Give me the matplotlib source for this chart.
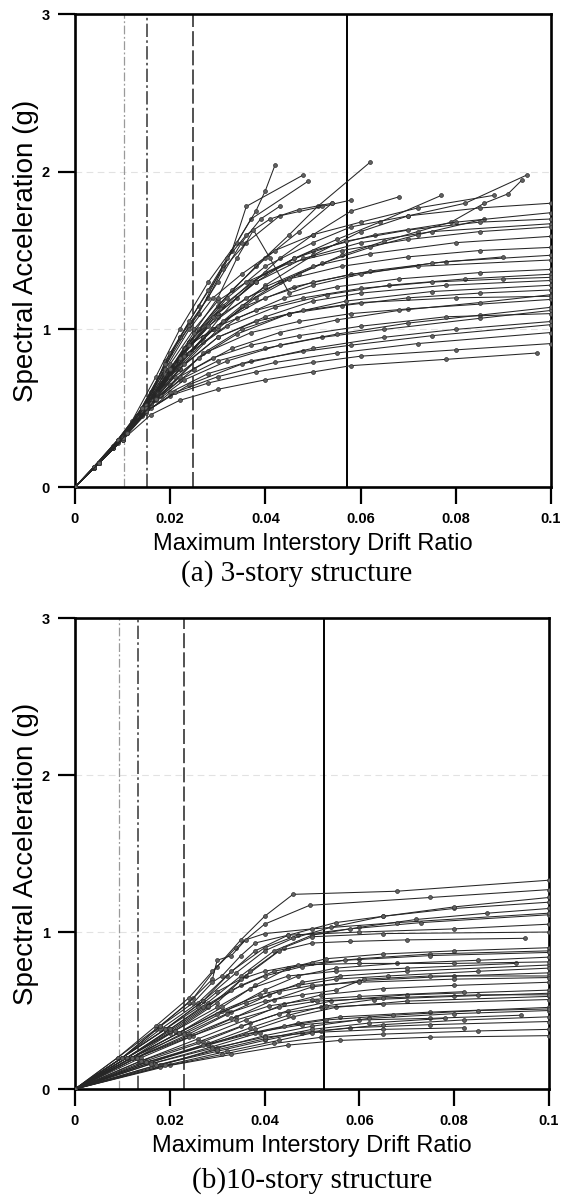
import numpy as np
import matplotlib
matplotlib.use("Agg")
import matplotlib.pyplot as plt

# IDA curves, (drift, Sa) pairs for each record
ida_3story = [
    [(0,0),(0.004,0.12),(0.008,0.25),(0.012,0.4),(0.016,0.58),(0.019,0.8),(0.022,0.95),(0.028,1.2),(0.033,1.5),(0.036,1.78),(0.048,1.98)],
    [(0,0),(0.004,0.12),(0.008,0.25),(0.012,0.4),(0.016,0.6),(0.02,0.85),(0.026,1.1),(0.031,1.4),(0.037,1.7),(0.049,1.94)],
    [(0,0),(0.004,0.12),(0.008,0.26),(0.012,0.42),(0.017,0.7),(0.022,1.0),(0.028,1.3),(0.034,1.55),(0.038,1.75),(0.04,1.88),(0.042,2.04)],
    [(0,0),(0.004,0.12),(0.008,0.25),(0.013,0.45),(0.018,0.72),(0.024,1.02),(0.03,1.3),(0.035,1.55),(0.039,1.7),(0.043,1.78)],
    [(0,0),(0.004,0.12),(0.008,0.25),(0.013,0.43),(0.018,0.66),(0.024,0.92),(0.03,1.15),(0.038,1.4),(0.045,1.6),(0.051,1.78),(0.062,2.06)],
    [(0,0),(0.004,0.12),(0.009,0.28),(0.014,0.46),(0.02,0.7),(0.027,0.95),(0.034,1.2),(0.043,1.45),(0.05,1.6),(0.058,1.75),(0.068,1.84)],
    [(0,0),(0.005,0.15),(0.01,0.31),(0.015,0.5),(0.022,0.75),(0.03,1.0),(0.04,1.28),(0.05,1.47),(0.06,1.62),(0.07,1.72),(0.082,1.8),(0.095,1.98)],
    [(0,0),(0.005,0.15),(0.01,0.31),(0.015,0.5),(0.021,0.75),(0.029,1.0),(0.038,1.2),(0.047,1.35),(0.056,1.47),(0.065,1.56),(0.072,1.62),(0.079,1.68),(0.086,1.8),(0.091,1.86),(0.094,1.95)],
    [(0,0),(0.004,0.13),(0.009,0.29),(0.015,0.5),(0.02,0.75),(0.026,1.0),(0.033,1.25),(0.04,1.45),(0.047,1.62),(0.054,1.8)],
    [(0,0),(0.005,0.15),(0.01,0.31),(0.016,0.55),(0.023,0.85),(0.03,1.1),(0.038,1.3),(0.046,1.45),(0.055,1.57),(0.064,1.68),(0.077,1.85)],
    [(0,0),(0.005,0.15),(0.01,0.31),(0.015,0.5),(0.02,0.72),(0.027,0.95),(0.035,1.15),(0.043,1.3),(0.052,1.42),(0.062,1.52),(0.072,1.6),(0.086,1.7)],
    [(0,0),(0.005,0.15),(0.011,0.35),(0.017,0.6),(0.024,0.92),(0.032,1.2),(0.04,1.4),(0.05,1.55),(0.058,1.65),(0.07,1.72),(0.085,1.77),(0.1,1.8)],
    [(0,0),(0.005,0.15),(0.011,0.34),(0.016,0.57),(0.023,0.88),(0.031,1.15),(0.04,1.36),(0.05,1.5),(0.063,1.6),(0.08,1.68),(0.1,1.74)],
    [(0,0),(0.005,0.15),(0.01,0.31),(0.015,0.5),(0.022,0.82),(0.03,1.1),(0.038,1.3),(0.048,1.45),(0.06,1.55),(0.075,1.62),(0.1,1.67)],
    [(0,0),(0.005,0.15),(0.011,0.34),(0.016,0.56),(0.023,0.85),(0.03,1.08),(0.04,1.27),(0.05,1.4),(0.062,1.48),(0.08,1.55),(0.1,1.59)],
    [(0,0),(0.005,0.15),(0.01,0.31),(0.015,0.52),(0.021,0.78),(0.028,1.02),(0.036,1.2),(0.045,1.32),(0.056,1.4),(0.07,1.46),(0.085,1.5),(0.1,1.52)],
    [(0,0),(0.005,0.15),(0.011,0.34),(0.016,0.55),(0.022,0.8),(0.029,1.0),(0.036,1.15),(0.046,1.27),(0.058,1.35),(0.072,1.4),(0.1,1.44)],
    [(0,0),(0.005,0.15),(0.01,0.31),(0.015,0.5),(0.02,0.7),(0.027,0.92),(0.034,1.07),(0.044,1.2),(0.055,1.27),(0.068,1.32),(0.085,1.36),(0.1,1.38)],
    [(0,0),(0.005,0.15),(0.011,0.34),(0.016,0.55),(0.022,0.75),(0.03,0.95),(0.04,1.08),(0.05,1.18),(0.06,1.23),(0.078,1.28),(0.1,1.31)],
    [(0,0),(0.005,0.15),(0.01,0.31),(0.014,0.45),(0.02,0.65),(0.027,0.85),(0.035,1.0),(0.045,1.1),(0.056,1.15),(0.07,1.2),(0.085,1.23),(0.1,1.25)],
    [(0,0),(0.005,0.15),(0.01,0.31),(0.015,0.5),(0.021,0.7),(0.028,0.86),(0.037,0.98),(0.047,1.05),(0.058,1.1),(0.07,1.13),(0.1,1.19)],
    [(0,0),(0.005,0.15),(0.01,0.31),(0.015,0.5),(0.022,0.68),(0.03,0.8),(0.04,0.88),(0.052,0.95),(0.065,1.0),(0.085,1.07),(0.1,1.12)],
    [(0,0),(0.005,0.15),(0.01,0.3),(0.015,0.47),(0.02,0.6),(0.028,0.72),(0.037,0.8),(0.048,0.86),(0.058,0.9),(0.075,0.96),(0.1,1.03)],
    [(0,0),(0.005,0.15),(0.01,0.3),(0.015,0.48),(0.02,0.58),(0.028,0.66),(0.038,0.73),(0.05,0.79),(0.06,0.83),(0.08,0.87),(0.1,0.91)],
    [(0,0),(0.005,0.15),(0.01,0.3),(0.016,0.46),(0.022,0.55),(0.03,0.62),(0.04,0.68),(0.05,0.73),(0.058,0.77),(0.078,0.81),(0.097,0.85)],
    [(0,0),(0.005,0.15),(0.01,0.31),(0.016,0.5),(0.024,0.65),(0.035,0.78),(0.05,0.88),(0.065,0.95),(0.08,1.0),(0.1,1.05)],
    [(0,0),(0.005,0.15),(0.011,0.34),(0.017,0.55),(0.025,0.75),(0.033,0.88),(0.043,0.98),(0.055,1.06),(0.068,1.12),(0.085,1.17),(0.1,1.22)],
    [(0,0),(0.005,0.15),(0.011,0.35),(0.018,0.58),(0.026,0.82),(0.034,0.97),(0.045,1.1),(0.057,1.18),(0.075,1.24),(0.1,1.28)],
    [(0,0),(0.005,0.15),(0.01,0.31),(0.016,0.52),(0.023,0.68),(0.032,0.8),(0.043,0.9),(0.055,0.97),(0.07,1.04),(0.085,1.09),(0.1,1.14)],
    [(0,0),(0.005,0.15),(0.011,0.35),(0.017,0.6),(0.024,0.85),(0.032,1.02),(0.042,1.14),(0.053,1.22),(0.066,1.28),(0.082,1.32),(0.1,1.35)],
    [(0,0),(0.005,0.15),(0.011,0.34),(0.016,0.55),(0.023,0.83),(0.031,1.05),(0.04,1.2),(0.05,1.3),(0.062,1.37),(0.078,1.43),(0.1,1.47)],
    [(0,0),(0.005,0.15),(0.01,0.32),(0.015,0.52),(0.022,0.82),(0.029,1.08),(0.037,1.3),(0.046,1.45),(0.057,1.56),(0.07,1.63),(0.085,1.68),(0.1,1.7)],
    [(0,0),(0.005,0.15),(0.01,0.3),(0.015,0.48),(0.021,0.6),(0.03,0.7),(0.042,0.79),(0.055,0.85),(0.072,0.91),(0.1,0.98)],
    [(0,0),(0.004,0.13),(0.009,0.3),(0.013,0.45),(0.018,0.7),(0.022,0.95),(0.026,1.15),(0.031,1.38),(0.036,1.55),(0.043,1.72),(0.052,1.78),(0.058,1.82)],
    [(0,0),(0.004,0.13),(0.009,0.3),(0.014,0.48),(0.019,0.75),(0.024,1.0),(0.029,1.2),(0.035,1.35),(0.042,1.5),(0.05,1.6),(0.06,1.68),(0.072,1.77),(0.088,1.85)],
    [(0,0),(0.005,0.15),(0.01,0.32),(0.015,0.52),(0.02,0.78),(0.025,1.0),(0.03,1.18),(0.036,1.3),(0.045,1.42),(0.056,1.5),(0.07,1.57),(0.085,1.62),(0.1,1.65)],
    [(0,0),(0.005,0.15),(0.01,0.32),(0.014,0.5),(0.019,0.72),(0.024,0.9),(0.03,1.02),(0.038,1.12),(0.048,1.2),(0.06,1.26),(0.075,1.3),(0.09,1.32),(0.1,1.33)],
    [(0,0),(0.005,0.15),(0.01,0.31),(0.016,0.53),(0.022,0.7),(0.029,0.82),(0.037,0.9),(0.047,0.96),(0.06,1.02),(0.078,1.08),(0.1,1.1)],
    [(0,0),(0.004,0.13),(0.009,0.3),(0.014,0.5),(0.019,0.78),(0.024,1.05),(0.028,1.25),(0.032,1.45),(0.036,1.6),(0.041,1.7),(0.047,1.76),(0.054,1.8)],
    [(0,0),(0.005,0.15),(0.01,0.31),(0.015,0.5),(0.02,0.75),(0.025,0.98),(0.03,1.2),(0.034,1.45),(0.0375,1.63),(0.041,1.45),(0.045,1.23),(0.05,1.28),(0.06,1.35),(0.075,1.42),(0.09,1.46)],
    [(0,0),(0.005,0.15),(0.011,0.34),(0.017,0.56),(0.023,0.78),(0.03,0.95),(0.038,1.05),(0.048,1.12),(0.06,1.17),(0.08,1.2),(0.1,1.21)],
]

ida_10story = [
    [(0,0),(0.01,0.2),(0.018,0.4),(0.025,0.58),(0.03,0.78),(0.035,0.95),(0.04,1.1),(0.046,1.24),(0.068,1.26),(0.1,1.33)],
    [(0,0),(0.009,0.2),(0.017,0.4),(0.024,0.58),(0.029,0.75),(0.034,0.9),(0.04,1.05),(0.0495,1.17),(0.075,1.22),(0.1,1.27)],
    [(0,0),(0.01,0.2),(0.018,0.38),(0.026,0.55),(0.032,0.72),(0.038,0.88),(0.045,0.98),(0.055,1.06),(0.065,1.1),(0.08,1.15),(0.1,1.19)],
    [(0,0),(0.011,0.2),(0.02,0.38),(0.028,0.55),(0.035,0.72),(0.042,0.88),(0.05,0.98),(0.06,1.03),(0.072,1.08),(0.087,1.12),(0.1,1.15)],
    [(0,0),(0.01,0.2),(0.019,0.38),(0.027,0.56),(0.033,0.75),(0.04,0.9),(0.047,0.98),(0.058,1.02),(0.073,1.06),(0.1,1.11)],
    [(0,0),(0.011,0.2),(0.02,0.36),(0.028,0.52),(0.036,0.72),(0.044,0.9),(0.05,0.97),(0.065,0.99),(0.1,1.0)],
    [(0,0),(0.012,0.2),(0.021,0.37),(0.03,0.55),(0.037,0.75),(0.043,0.88),(0.05,0.93),(0.058,0.94),(0.07,0.95),(0.095,0.96)],
    [(0,0),(0.012,0.2),(0.022,0.36),(0.031,0.52),(0.038,0.66),(0.045,0.77),(0.053,0.83),(0.065,0.86),(0.08,0.88),(0.1,0.9)],
    [(0,0),(0.013,0.2),(0.023,0.36),(0.032,0.5),(0.04,0.63),(0.047,0.72),(0.055,0.77),(0.068,0.8),(0.085,0.82),(0.1,0.84)],
    [(0,0),(0.013,0.2),(0.024,0.35),(0.033,0.49),(0.041,0.6),(0.048,0.68),(0.056,0.72),(0.07,0.75),(0.1,0.79)],
    [(0,0),(0.014,0.2),(0.025,0.34),(0.034,0.46),(0.042,0.57),(0.05,0.65),(0.06,0.69),(0.08,0.72),(0.1,0.74)],
    [(0,0),(0.014,0.18),(0.026,0.32),(0.036,0.44),(0.044,0.54),(0.052,0.6),(0.065,0.64),(0.08,0.66),(0.1,0.68)],
    [(0,0),(0.015,0.18),(0.027,0.3),(0.037,0.42),(0.045,0.5),(0.054,0.56),(0.07,0.6),(0.1,0.63)],
    [(0,0),(0.015,0.17),(0.028,0.28),(0.038,0.38),(0.046,0.46),(0.055,0.52),(0.07,0.56),(0.1,0.59)],
    [(0,0),(0.016,0.16),(0.029,0.27),(0.039,0.36),(0.047,0.42),(0.056,0.46),(0.075,0.49),(0.1,0.52)],
    [(0,0),(0.017,0.15),(0.03,0.24),(0.04,0.31),(0.048,0.36),(0.058,0.39),(0.075,0.41),(0.1,0.43)],
    [(0,0),(0.02,0.15),(0.033,0.22),(0.045,0.28),(0.056,0.31),(0.075,0.33),(0.1,0.34)],
    [(0,0),(0.014,0.18),(0.026,0.3),(0.035,0.4),(0.043,0.48),(0.052,0.52),(0.065,0.54),(0.1,0.57)],
    [(0,0),(0.016,0.17),(0.028,0.28),(0.038,0.36),(0.048,0.41),(0.06,0.44),(0.075,0.45),(0.094,0.47)],
    [(0,0),(0.013,0.2),(0.024,0.34),(0.033,0.45),(0.041,0.53),(0.05,0.57),(0.06,0.59),(0.082,0.62)],
    [(0,0),(0.012,0.2),(0.022,0.36),(0.031,0.5),(0.039,0.6),(0.047,0.66),(0.055,0.7),(0.066,0.72),(0.085,0.75),(0.1,0.77)],
    [(0,0),(0.011,0.2),(0.021,0.37),(0.03,0.52),(0.037,0.64),(0.045,0.72),(0.055,0.75),(0.07,0.77),(0.093,0.8)],
    [(0,0),(0.009,0.2),(0.017,0.38),(0.024,0.55),(0.029,0.7),(0.03,0.82),(0.033,0.85),(0.036,0.95),(0.04,0.99),(0.05,1.02),(0.068,1.06),(0.1,1.12)],
    [(0,0),(0.01,0.2),(0.018,0.4),(0.025,0.55),(0.029,0.68),(0.031,0.72),(0.035,0.85),(0.038,0.93),(0.045,0.98),(0.06,1.0),(0.08,1.02),(0.1,1.05)],
    [(0,0),(0.018,0.15),(0.03,0.26),(0.04,0.34),(0.05,0.4),(0.062,0.45),(0.08,0.48),(0.1,0.5)],
    [(0,0),(0.018,0.14),(0.031,0.22),(0.042,0.29),(0.052,0.33),(0.065,0.35),(0.085,0.37),(0.1,0.38)],
    [(0,0),(0.017,0.15),(0.03,0.25),(0.04,0.32),(0.05,0.38),(0.062,0.42),(0.078,0.45)],
    [(0,0),(0.012,0.2),(0.023,0.35),(0.032,0.48),(0.04,0.56),(0.048,0.6),(0.055,0.63),(0.061,0.7),(0.075,0.72),(0.1,0.72)],
    [(0,0),(0.011,0.2),(0.02,0.37),(0.028,0.53),(0.035,0.66),(0.042,0.75),(0.05,0.8),(0.06,0.83),(0.075,0.86),(0.1,0.88)],
    [(0,0),(0.01,0.2),(0.019,0.38),(0.027,0.56),(0.034,0.74),(0.04,0.88),(0.046,0.96),(0.054,1.03),(0.065,1.1),(0.08,1.16),(0.1,1.22)],
    [(0,0),(0.016,0.17),(0.028,0.29),(0.037,0.39),(0.045,0.47),(0.053,0.53),(0.063,0.57),(0.08,0.59),(0.1,0.61)],
    [(0,0),(0.019,0.15),(0.032,0.24),(0.043,0.31),(0.052,0.37),(0.065,0.41),(0.082,0.44),(0.1,0.46)],
    [(0,0),(0.011,0.2),(0.02,0.38),(0.027,0.52),(0.033,0.63),(0.04,0.72),(0.048,0.78),(0.057,0.82),(0.075,0.85),(0.1,0.87)],
    [(0,0),(0.013,0.2),(0.024,0.33),(0.034,0.44),(0.043,0.52),(0.051,0.56),(0.065,0.58),(0.085,0.6),(0.1,0.6)],
    [(0,0),(0.015,0.17),(0.027,0.28),(0.036,0.35),(0.044,0.4),(0.053,0.44),(0.067,0.47),(0.085,0.5),(0.1,0.51)],
    [(0,0),(0.01,0.2),(0.019,0.38),(0.026,0.52),(0.03,0.62),(0.035,0.7),(0.04,0.75),(0.047,0.79),(0.06,0.8),(0.08,0.8),(0.1,0.81)],
    [(0,0),(0.012,0.2),(0.022,0.36),(0.03,0.48),(0.036,0.55),(0.043,0.62),(0.05,0.66),(0.06,0.68),(0.08,0.7),(0.1,0.71)],
    [(0,0),(0.016,0.16),(0.029,0.26),(0.04,0.33),(0.05,0.36),(0.065,0.38),(0.082,0.39)],
]

# limit-state drift thresholds (IO, DC, LS, CP)
limits_3story = [0.0103, 0.0151, 0.0248, 0.0571]
limits_10story = [0.0092, 0.0134, 0.023, 0.0525]

x_ticks = [0, 0.02, 0.04, 0.06, 0.08, 0.1]
x_ticklabels = ['0', '0.02', '0.04', '0.06', '0.08', '0.1']
y_ticks = [0, 1, 2, 3]

captions = ['(a) 3-story structure', '(b)10-story structure']


def plot_panel(ax, curves, limits):
    for c in curves:
        c = np.array(c)
        ax.plot(c[:, 0], c[:, 1], color='#262626', lw=0.75, marker='o', ms=2.8,
                mfc='#606060', mec='#303030', mew=0.5, zorder=3)

    # faint grid
    for yv in [1, 2]:
        ax.axhline(yv, color='#e2e2e2', ls=(0, (6, 4)), lw=0.8, zorder=0)

    ax.axvline(limits[0], color='#9a9a9a', lw=0.9, ls=(0, (7, 2, 1.5, 2)), zorder=2)
    ax.axvline(limits[1], color='#444444', lw=1.2, ls=(0, (8, 2, 1.5, 2)), zorder=2)
    ax.axvline(limits[2], color='#333333', lw=1.2, ls=(0, (9, 2.5)), zorder=2)
    ax.axvline(limits[3], color='black', lw=1.4, zorder=2)

    ax.set_xlim(0, 0.1)
    ax.set_ylim(0, 3)
    ax.set_xticks(x_ticks)
    ax.set_xticklabels(x_ticklabels)
    ax.set_yticks(y_ticks)
    ax.tick_params(direction='out', length=12, width=1.6, pad=6, labelsize=10.5)
    for lab in ax.get_xticklabels() + ax.get_yticklabels():
        lab.set_fontweight('bold')
    for sp in ax.spines.values():
        sp.set_linewidth(1.9)
    ax.set_xlabel('Maximum Interstory Drift Ratio', fontsize=17, labelpad=5)
    ax.set_ylabel('Spectral Acceleration (g)', fontsize=20, labelpad=2)


def main():
    plt.rcParams['font.family'] = ['Liberation Sans', 'DejaVu Sans']
    fig = plt.figure(figsize=(5.75, 11.97), dpi=100)
    ax1 = fig.add_axes([0.1304, 0.5931, 0.8278, 0.3952])
    ax2 = fig.add_axes([0.1304, 0.0902, 0.8243, 0.3935])

    plot_panel(ax1, ida_3story, limits_3story)
    plot_panel(ax2, ida_10story, limits_10story)

    fig.text(0.516, 1 - 574 / 1197, captions[0], ha='center', va='center',
             fontsize=21, family=['Liberation Serif', 'DejaVu Serif'])
    fig.text(0.543, 1 - 1181 / 1197, captions[1], ha='center', va='center',
             fontsize=21, family=['Liberation Serif', 'DejaVu Serif'])

    fig.savefig('out.png', dpi=100, facecolor='white')


if __name__ == "__main__":
    main()
